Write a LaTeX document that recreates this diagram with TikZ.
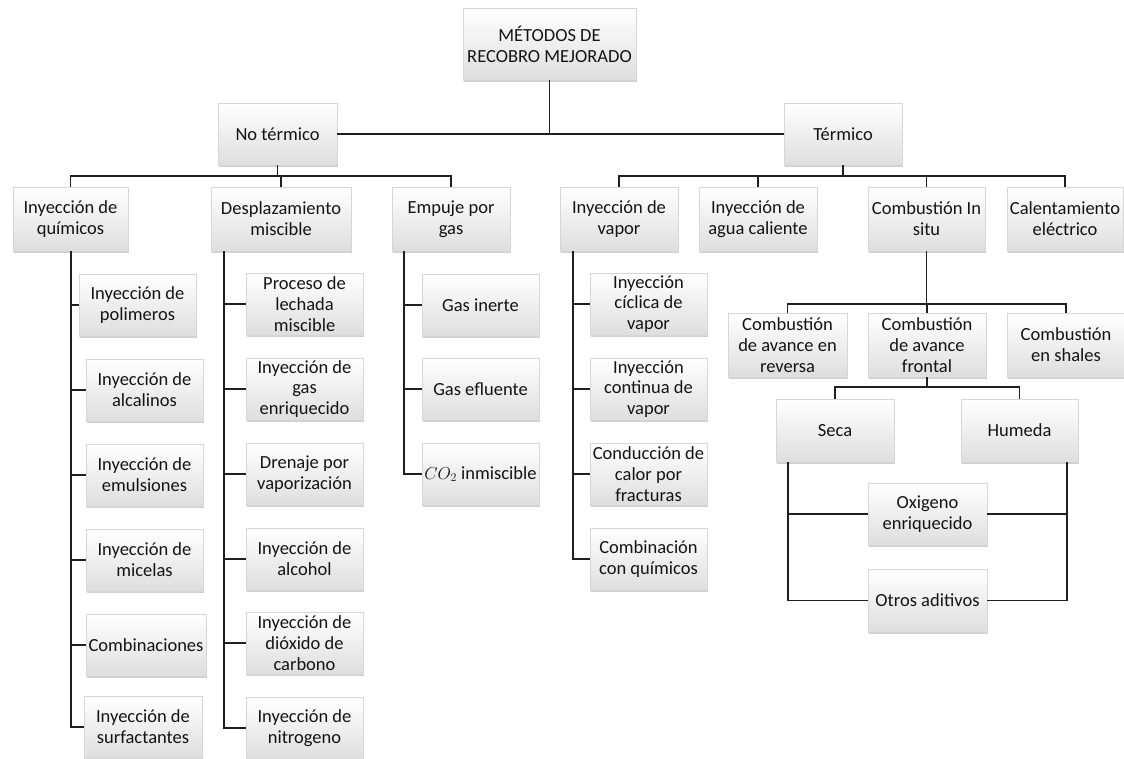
\documentclass[tikz,border=0pt]{standalone}
\usepackage{fontspec}
\setmainfont{Carlito}
\usetikzlibrary{shadows}
\newcommand{\bfsz}{\fontsize{18.5}{20.8}\selectfont}
\tikzset{
  box/.style={rectangle, draw=black!16, line width=0.4pt, top color=white, bottom color=black!13,
    drop shadow={shadow xshift=1.3pt, shadow yshift=-2.2pt, opacity=0.32, fill=black!60},
    align=center, inner sep=1pt, font=\bfsz, text=black!92, minimum width=117pt, minimum height=62pt},
  conn/.style={line width=1.25pt, draw=black!88}
}
\begin{document}
\begin{tikzpicture}[x=1pt,y=-1pt]
\useasboundingbox (0,0) rectangle (1124,759);
% level 0
\node[box, minimum width=173pt, minimum height=72pt] (root) at (549.5,44) {MÉTODOS DE\\RECOBRO MEJORADO};
% level 1
\node[box, minimum width=119pt] (notermico) at (277.5,134) {No térmico};
\node[box, minimum width=118pt] (termico) at (843,134) {Térmico};
% level 2
\node[box, minimum width=115pt, minimum height=64pt] (quimicos) at (70.5,219) {Inyección de\\químicos};
\node[box, minimum width=140pt, minimum height=64pt] (desplaz) at (281,219) {Desplazamiento\\miscible};
\node[box, minimum width=118pt, minimum height=64pt] (empuje) at (451,219) {Empuje por\\gas};
\node[box, minimum width=118pt, minimum height=64pt] (vapor) at (619,219) {Inyección de\\vapor};
\node[box, minimum width=118pt, minimum height=64pt] (agua) at (758,219) {Inyección de\\agua caliente};
\node[box, minimum width=117pt, minimum height=64pt] (insitu) at (926.5,219) {Combustión In\\situ};
\node[box, minimum width=116pt, minimum height=64pt] (calent) at (1065,219) {Calentamiento\\eléctrico};
% quimicos children
\node[box] (q1) at (137.5,305) {Inyección de\\polimeros};
\node[box] (q2) at (144.5,390) {Inyección de\\alcalinos};
\node[box] (q3) at (144.5,475) {Inyección de\\emulsiones};
\node[box] (q4) at (144.5,560) {Inyección de\\micelas};
\node[box, minimum width=120pt] (q5) at (146,645) {Combinaciones};
\node[box, minimum width=118pt] (q6) at (143,727) {Inyección de\\surfactantes};
% desplaz children
\node[box] (d1) at (304.5,304) {Proceso de\\lechada\\miscible};
\node[box] (d2) at (304.5,389) {Inyección de\\gas\\enriquecido};
\node[box] (d3) at (304.5,474) {Drenaje por\\vaporización};
\node[box] (d4) at (304.5,559) {Inyección de\\alcohol};
\node[box] (d5) at (304.5,643) {Inyección de\\dióxido de\\carbono};
\node[box] (d6) at (304.5,728) {Inyección de\\nitrogeno};
% empuje children
\node[box] (e1) at (480.5,305) {Gas inerte};
\node[box] (e2) at (480.5,389) {Gas efluente};
\node[box] (e3) at (480.5,474) {$CO_2$ inmiscible};
% vapor children
\node[box] (v1) at (648.5,304) {Inyección\\cíclica de\\vapor};
\node[box] (v2) at (648.5,389) {Inyección\\continua de\\vapor};
\node[box] (v3) at (648.5,474) {Conducción de\\calor por\\fracturas};
\node[box] (v4) at (648.5,559) {Combinación\\con químicos};
% in situ children
\node[box, minimum width=119pt, minimum height=64pt] (reversa) at (787.5,345) {Combustión\\de avance en\\reversa};
\node[box, minimum width=118pt, minimum height=64pt] (frontal) at (927,345) {Combustión\\de avance\\frontal};
\node[box, minimum width=118pt, minimum height=64pt] (shales) at (1066,345) {Combustión\\en shales};
% frontal children
\node[box, minimum width=118pt, minimum height=63pt] (seca) at (835,430.5) {Seca};
\node[box, minimum width=117pt, minimum height=63pt] (humeda) at (1019.5,430.5) {Humeda};
\node[box, minimum width=119pt] (oxig) at (927.5,514) {Oxigeno\\enriquecido};
\node[box, minimum width=119pt, minimum height=63pt] (otros) at (927.5,600.5) {Otros aditivos};
% connectors
\coordinate (hA) at (0,176);
\coordinate (hB) at (0,304);
\coordinate (hC) at (0,387);
\coordinate (qX) at (71,0);
\coordinate (dX) at (224,0);
\coordinate (eX) at (404,0);
\coordinate (vX) at (573,0);
\coordinate (sX) at (788,0);
\coordinate (uX) at (1067,0);
\draw[conn] (root.south) -- (root.south |- notermico.east);
\draw[conn] (notermico.east) -- (termico.west);
\draw[conn] (notermico.south) -- (notermico.south |- hA);
\draw[conn] (quimicos.north) -- (quimicos.north |- hA) -- (empuje.north |- hA) -- (empuje.north);
\draw[conn] (desplaz.north) -- (desplaz.north |- hA);
\draw[conn] (termico.south) -- (termico.south |- hA);
\draw[conn] (vapor.north) -- (vapor.north |- hA) -- (calent.north |- hA) -- (calent.north);
\draw[conn] (agua.north) -- (agua.north |- hA);
\draw[conn] (insitu.north) -- (insitu.north |- hA);
% quimicos list
\draw[conn] (qX |- quimicos.south) -- (qX |- q6.west) -- (q6.west);
\foreach \n in {q1,q2,q3,q4,q5} \draw[conn] (qX |- \n.west) -- (\n.west);
% desplaz list
\draw[conn] (dX |- desplaz.south) -- (dX |- d6.west) -- (d6.west);
\foreach \n in {d1,d2,d3,d4,d5} \draw[conn] (dX |- \n.west) -- (\n.west);
% empuje list
\draw[conn] (eX |- empuje.south) -- (eX |- e3.west) -- (e3.west);
\foreach \n in {e1,e2} \draw[conn] (eX |- \n.west) -- (\n.west);
% vapor list
\draw[conn] (vX |- vapor.south) -- (vX |- v4.west) -- (v4.west);
\foreach \n in {v1,v2,v3} \draw[conn] (vX |- \n.west) -- (\n.west);
% in situ
\draw[conn] (insitu.south) -- (insitu.south |- hB);
\draw[conn] (reversa.north) -- (reversa.north |- hB) -- (shales.north |- hB) -- (shales.north);
\draw[conn] (frontal.north) -- (frontal.north |- hB);
% frontal
\draw[conn] (frontal.south) -- (frontal.south |- hC);
\draw[conn] (seca.north) -- (seca.north |- hC) -- (humeda.north |- hC) -- (humeda.north);
% seca / humeda
\draw[conn] (sX |- seca.south) -- (sX |- otros.west) -- (otros.west);
\draw[conn] (sX |- oxig.west) -- (oxig.west);
\draw[conn] (uX |- humeda.south) -- (uX |- otros.east) -- (otros.east);
\draw[conn] (uX |- oxig.east) -- (oxig.east);
\end{tikzpicture}
\end{document}
